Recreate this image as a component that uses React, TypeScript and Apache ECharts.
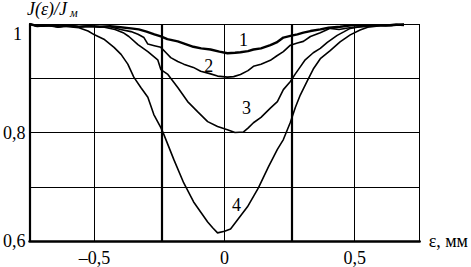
import React, { useEffect, useRef } from "react";
import * as echarts from "echarts";

const FONT = "Liberation Serif";

// Curve 1
const eps1 = [-0.75, -0.72, -0.68, -0.64, -0.6, -0.56, -0.52, -0.48, -0.44, -0.4, -0.36, -0.33, -0.3, -0.27, -0.245, -0.22, -0.18, -0.15, -0.12, -0.09, -0.054, -0.02, 0.011, 0.04, 0.061, 0.09, 0.111, 0.14, 0.176, 0.2, 0.226, 0.253, 0.28, 0.303, 0.33, 0.368, 0.4, 0.444, 0.494, 0.54, 0.58, 0.62, 0.66, 0.69];
const j1 = [1.0, 0.996, 0.998, 0.995, 0.997, 0.995, 0.996, 0.995, 0.996, 0.994, 0.992, 0.99, 0.986, 0.981, 0.977, 0.972, 0.968, 0.963, 0.958, 0.955, 0.953, 0.949, 0.946, 0.947, 0.948, 0.95, 0.953, 0.955, 0.961, 0.966, 0.975, 0.978, 0.981, 0.984, 0.987, 0.99, 0.993, 0.995, 0.998, 0.996, 0.998, 0.997, 0.999, 0.998];

// Curve 2
const eps2 = [-0.75, -0.72, -0.68, -0.64, -0.6, -0.56, -0.52, -0.48, -0.44, -0.4, -0.36, -0.333, -0.31, -0.295, -0.27, -0.245, -0.225, -0.207, -0.18, -0.157, -0.12, -0.092, -0.06, -0.027, 0.011, 0.035, 0.061, 0.09, 0.111, 0.14, 0.176, 0.2, 0.226, 0.253, 0.28, 0.303, 0.33, 0.368, 0.406, 0.44, 0.48, 0.521, 0.56, 0.6, 0.64, 0.69];
const j2 = [1.0, 0.996, 0.998, 0.995, 0.997, 0.995, 0.996, 0.995, 0.995, 0.99, 0.986, 0.981, 0.975, 0.963, 0.96, 0.957, 0.947, 0.938, 0.931, 0.926, 0.92, 0.913, 0.909, 0.904, 0.902, 0.903, 0.907, 0.914, 0.922, 0.926, 0.933, 0.941, 0.949, 0.961, 0.965, 0.968, 0.977, 0.984, 0.992, 0.99, 0.993, 0.995, 0.997, 0.998, 0.997, 0.999];

// Curve 3
const eps3 = [-0.75, -0.72, -0.68, -0.64, -0.6, -0.56, -0.52, -0.471, -0.421, -0.39, -0.368, -0.333, -0.295, -0.257, -0.245, -0.218, -0.18, -0.142, -0.103, -0.065, -0.027, 0.011, 0.04, 0.073, 0.09, 0.111, 0.14, 0.176, 0.203, 0.226, 0.253, 0.272, 0.291, 0.31, 0.341, 0.368, 0.395, 0.433, 0.46, 0.483, 0.51, 0.56, 0.6, 0.65, 0.69];
const j3 = [1.0, 0.996, 0.998, 0.995, 0.997, 0.995, 0.996, 0.995, 0.99, 0.984, 0.977, 0.962, 0.949, 0.934, 0.916, 0.907, 0.883, 0.857, 0.838, 0.82, 0.811, 0.805, 0.8, 0.801, 0.808, 0.818, 0.828, 0.845, 0.857, 0.879, 0.894, 0.908, 0.921, 0.934, 0.947, 0.955, 0.966, 0.979, 0.986, 0.992, 0.994, 0.997, 0.998, 0.998, 1.0];

// Curve 4
const eps4 = [-0.75, -0.7, -0.65, -0.6, -0.56, -0.525, -0.5, -0.464, -0.425, -0.398, -0.372, -0.349, -0.322, -0.295, -0.272, -0.245, -0.234, -0.195, -0.157, -0.119, -0.09, -0.065, -0.045, -0.027, 0.0, 0.023, 0.05, 0.088, 0.13, 0.169, 0.203, 0.226, 0.253, 0.272, 0.291, 0.318, 0.341, 0.368, 0.406, 0.444, 0.483, 0.521, 0.55, 0.6, 0.65, 0.69];
const j4 = [1.0, 0.996, 0.997, 0.995, 0.993, 0.987, 0.98, 0.972, 0.957, 0.944, 0.926, 0.902, 0.883, 0.865, 0.833, 0.809, 0.797, 0.75, 0.707, 0.672, 0.652, 0.635, 0.624, 0.615, 0.618, 0.622, 0.639, 0.663, 0.698, 0.737, 0.769, 0.787, 0.819, 0.846, 0.869, 0.895, 0.917, 0.936, 0.951, 0.967, 0.98, 0.989, 0.994, 0.997, 0.998, 1.0];

const curveNames = ["1", "2", "3", "4"];
const curveWidths = [2.4, 1.6, 1.6, 1.6];
// label anchor positions (data coords)
const labelEps = [0.073, -0.061, 0.084, 0.046];
const labelJ = [0.97, 0.923, 0.846, 0.667];

const xTickLabels: Record<string, string> = { "-0.5": "\u20130,5", "0": "0", "0.5": "0,5" };
const yTickLabels: Record<string, string> = { "0.6": "0,6", "0.8": "0,8" };
const yTopLabel = "1";
const gridX = [-0.5, 0, 0.5, 0.75];
const slitX = [-0.24, 0.26];

export default function App() {
  const ref = useRef<HTMLDivElement>(null);
  useEffect(() => {
    if (!ref.current) return;
    const chart = echarts.init(ref.current, undefined, { renderer: "svg" });
    const xs = [eps1, eps2, eps3, eps4];
    const ys = [j1, j2, j3, j4];
    const series: any[] = xs.map((ex, i) => ({
      type: "line",
      name: curveNames[i],
      data: ex.map((x, k) => [x, ys[i][k]]),
      symbol: "none",
      smooth: false,
      lineStyle: { color: "#000", width: curveWidths[i] },
      z: 5,
      markPoint: {
        symbol: "circle",
        symbolSize: 0,
        silent: true,
        data: [{ coord: [labelEps[i], labelJ[i]] }],
        label: {
          show: true,
          position: "inside",
          formatter: curveNames[i],
          color: "#000",
          textBorderWidth: 0,
          fontSize: 18,
          fontFamily: FONT,
        },
      },
    }));
    series[0].markLine = {
      silent: true,
      symbol: "none",
      label: { show: false },
      z: 1,
      data: [
        ...gridX.map((v) => ({ xAxis: v, lineStyle: { color: "#000", width: 1, type: "solid" } })),
        ...slitX.map((v) => ({ xAxis: v, lineStyle: { color: "#000", width: 2.2, type: "solid" } })),
      ],
    };
    chart.setOption({
      animation: false,
      backgroundColor: "#fff",
      grid: { left: 27, top: 24, right: 49, bottom: 26 },
      xAxis: {
        type: "value",
        min: -0.75,
        max: 0.75,
        interval: 0.25,
        name: "\u03b5, мм",
        nameLocation: "end",
        nameGap: 9,
        nameTextStyle: { color: "#000", fontSize: 18, fontFamily: FONT, verticalAlign: "middle" },
        axisLine: { show: true, onZero: false, lineStyle: { color: "#000", width: 2.5 } },
        axisTick: { show: false },
        splitLine: { show: false },
        axisLabel: {
          color: "#000",
          fontSize: 18,
          fontFamily: FONT,
          margin: 8,
          formatter: (v: number) => xTickLabels[String(Math.round(v * 100) / 100)] ?? "",
        },
      },
      yAxis: {
        type: "value",
        min: 0.6,
        max: 1.0,
        interval: 0.1,
        axisLine: { show: true, onZero: false, lineStyle: { color: "#000", width: 2.2 } },
        axisTick: { show: false },
        splitLine: { show: true, lineStyle: { color: "#000", width: 1 } },
        axisLabel: {
          color: "#000",
          fontSize: 18,
          fontFamily: FONT,
          margin: 4,
          formatter: (v: number) => yTickLabels[String(Math.round(v * 10) / 10)] ?? "",
        },
      },
      graphic: [
        {
          type: "text",
          left: 13,
          top: 25,
          style: { text: yTopLabel, fontSize: 18, fontFamily: FONT, fill: "#000" },
        },
        {
          type: "text",
          left: 27,
          top: 0,
          style: { text: "J(\u03b5)/J", fontSize: 18, fontStyle: "italic", fontFamily: FONT, fill: "#000" },
        },
        {
          type: "text",
          left: 70,
          top: 7,
          style: { text: "м", fontSize: 12, fontStyle: "italic", fontFamily: FONT, fill: "#000" },
        },
      ],
      series,
    });
    return () => chart.dispose();
  }, []);
  return <div ref={ref} style={{ position: "absolute", left: 0, top: 0, width: 471, height: 267 }} />;
}
